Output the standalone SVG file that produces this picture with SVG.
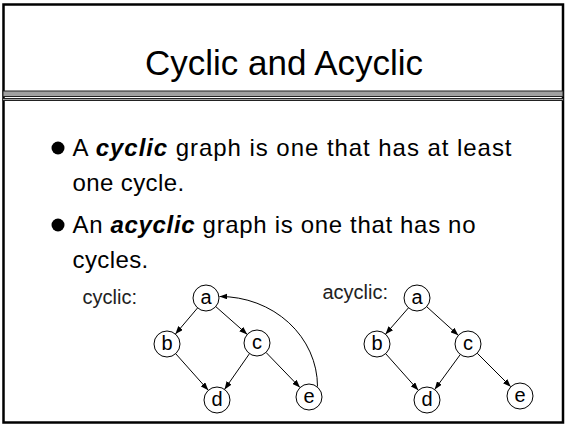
<svg xmlns="http://www.w3.org/2000/svg" width="565" height="424" viewBox="0 0 565 424">
<style>
.frame{fill:#fff;stroke:#000;stroke-width:2.5}
.bar{fill:#a0a0a0;stroke:#222;stroke-width:1}
.title{font-family:"Liberation Sans",Arial,sans-serif;font-size:35px;fill:#000}
.body{font-family:"Liberation Sans",Arial,sans-serif;font-size:24px;fill:#000}
.em{font-weight:bold;font-style:italic}
.lbl{font-family:"Liberation Sans",Arial,sans-serif;font-size:20px;fill:#222}
.node circle{fill:#fff;stroke:#000;stroke-width:1}
.node text{font-family:"Liberation Sans",Arial,sans-serif;font-size:20px;fill:#000;text-anchor:middle}
.edge{fill:none;stroke:#000;stroke-width:1;marker-end:url(#arr)}
</style>
<defs>
<marker id="arr" markerUnits="userSpaceOnUse" markerWidth="8" markerHeight="6" refX="8" refY="3" orient="auto">
<path d="M0,0 L8,3 L0,6 z" fill="#000"/>
</marker>
</defs>
<rect class="frame" x="3.5" y="4.5" width="559.5" height="418"/>
<rect class="bar" x="3" y="91" width="560" height="5.5"/>
<rect class="bar" x="3" y="98.5" width="560" height="2"/>
<text class="title" x="284" y="75" text-anchor="middle">Cyclic and Acyclic</text>
<circle cx="58" cy="148" r="6.5" fill="#000"/>
<text class="body" x="72.5" y="156" textLength="439" lengthAdjust="spacing">A <tspan class="em">cyclic</tspan> graph is one that has at least</text>
<text class="body" x="72.5" y="191" letter-spacing="0.4">one cycle.</text>
<circle cx="58" cy="225" r="6.5" fill="#000"/>
<text class="body" x="72.5" y="233" textLength="403" lengthAdjust="spacing">An <tspan class="em">acyclic</tspan> graph is one that has no</text>
<text class="body" x="72.5" y="268" letter-spacing="0.4">cycles.</text>
<text class="lbl" x="82.5" y="304">cyclic:</text>
<text class="lbl" x="322.5" y="298.5">acyclic:</text>
<g id="connectors">
<line class="edge" x1="197.6" y1="307.9" x2="175.4" y2="334.1"/>
<line class="edge" x1="215.75" y1="306.6" x2="247.25" y2="334.4"/>
<line class="edge" x1="175.7" y1="353.7" x2="208.3" y2="390.3"/>
<line class="edge" x1="249.5" y1="353.6" x2="224.5" y2="389.4"/>
<line class="edge" x1="266" y1="352.4" x2="300" y2="387.6"/>
<path class="edge" d="M317.5,386.5 A97.5 90 0 0 0 219.5,296.5"/>
<line class="edge" x1="408.5" y1="307.8" x2="385.5" y2="334.2"/>
<line class="edge" x1="426.7" y1="306.7" x2="458.3" y2="335.3"/>
<line class="edge" x1="385.7" y1="353.7" x2="418.3" y2="390.3"/>
<line class="edge" x1="460.3" y1="354.5" x2="434.7" y2="389.5"/>
<line class="edge" x1="477.2" y1="353.2" x2="510.8" y2="386.8"/>
</g>
<g id="c-a" class="node"><circle cx="206" cy="298" r="13"/><text x="206" y="303.5">a</text></g>
<g id="c-b" class="node"><circle cx="167" cy="344" r="13"/><text x="167" y="349.5">b</text></g>
<g id="c-c" class="node"><circle cx="257" cy="343" r="13"/><text x="257" y="348.5">c</text></g>
<g id="c-d" class="node"><circle cx="217" cy="400" r="13"/><text x="217" y="405.5">d</text></g>
<g id="c-e" class="node"><circle cx="309" cy="397" r="13"/><text x="309" y="402.5">e</text></g>
<g id="a-a" class="node"><circle cx="417" cy="298" r="13"/><text x="417" y="303.5">a</text></g>
<g id="a-b" class="node"><circle cx="377" cy="344" r="13"/><text x="377" y="349.5">b</text></g>
<g id="a-c" class="node"><circle cx="468" cy="344" r="13"/><text x="468" y="349.5">c</text></g>
<g id="a-d" class="node"><circle cx="427" cy="400" r="13"/><text x="427" y="405.5">d</text></g>
<g id="a-e" class="node"><circle cx="520" cy="396" r="13"/><text x="520" y="401.5">e</text></g>
</svg>
